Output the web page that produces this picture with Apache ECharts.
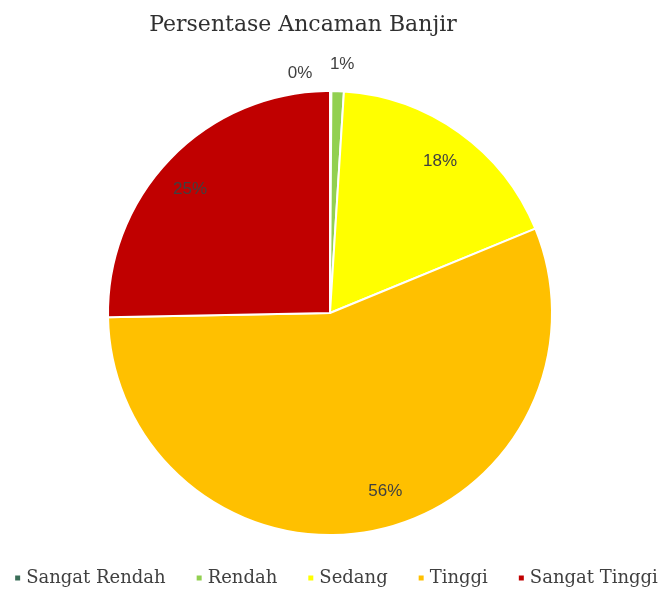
<!DOCTYPE html>
<html><head><meta charset="utf-8">
<script src="https://cdn.jsdelivr.net/npm/echarts@6/dist/echarts.min.js"></script>
<style>html,body{margin:0;padding:0;background:#fff}#c{width:671px;height:592px}</style>
</head><body><div id="c"></div>
<script>
const categories = ['Sangat Rendah', 'Rendah', 'Sedang', 'Tinggi', 'Sangat Tinggi'];
const values = [0.1, 0.9, 17.8, 55.9, 25.3];
const colors = ['#3B6E58', '#92D050', '#FFFF00', '#FFC000', '#C00000'];
const titleText = 'Persentase Ancaman Banjir';

const chart = echarts.init(document.getElementById('c'));
const data = categories.map((n, i) => ({ name: n, value: values[i], itemStyle: { color: colors[i] } }));
const fmt = p => Math.round(p.value) + '%';
const labelFont = { fontFamily: 'Liberation Sans', fontSize: 17, color: '#404040' };
const outerShift = [{ dx: -48, dy: -12 }, { dx: -13, dy: -21 }];
const innerShift = [{}, {}, { dx: 0, dy: 2 }, { dx: 17, dy: -7 }, { dx: -5, dy: 9 }];

chart.setOption({
  animation: false,
  title: { text: titleText, left: 298, top: 9, textAlign: 'center',
    textStyle: { fontFamily: 'DejaVu Serif', fontSize: 22, fontWeight: 'normal', color: '#303030' } },
  legend: { top: 564, left: 'center', icon: 'rect', itemWidth: 7, itemHeight: 7, itemGap: 29,
    textStyle: { fontFamily: 'DejaVu Serif', fontSize: 18, color: '#404040' }, data: categories },
  series: [
    { type: 'pie', center: [330, 313], radius: 222, startAngle: 90, clockwise: true,
      avoidLabelOverlap: false, silent: true,
      itemStyle: { borderColor: '#fff', borderWidth: 2 },
      data: data.map((d, i) => Object.assign({}, d, {
        label: { show: i < 2, position: 'outside', formatter: fmt, ...labelFont },
        labelLine: { show: false, length: 6, length2: 0 } })),
      labelLayout: p => outerShift[p.dataIndex] || {}
    },
    { type: 'pie', center: [330, 313], radius: [150, 222], startAngle: 90, clockwise: true,
      silent: true, legendHoverLink: false, avoidLabelOverlap: false,
      itemStyle: { color: 'rgba(0,0,0,0)' },
      data: categories.map((n, i) => ({ name: n, value: values[i],
        label: { show: i >= 2, position: 'inside', formatter: fmt, ...labelFont } })),
      labelLayout: p => innerShift[p.dataIndex] || {}
    }
  ]
});
</script></body></html>
